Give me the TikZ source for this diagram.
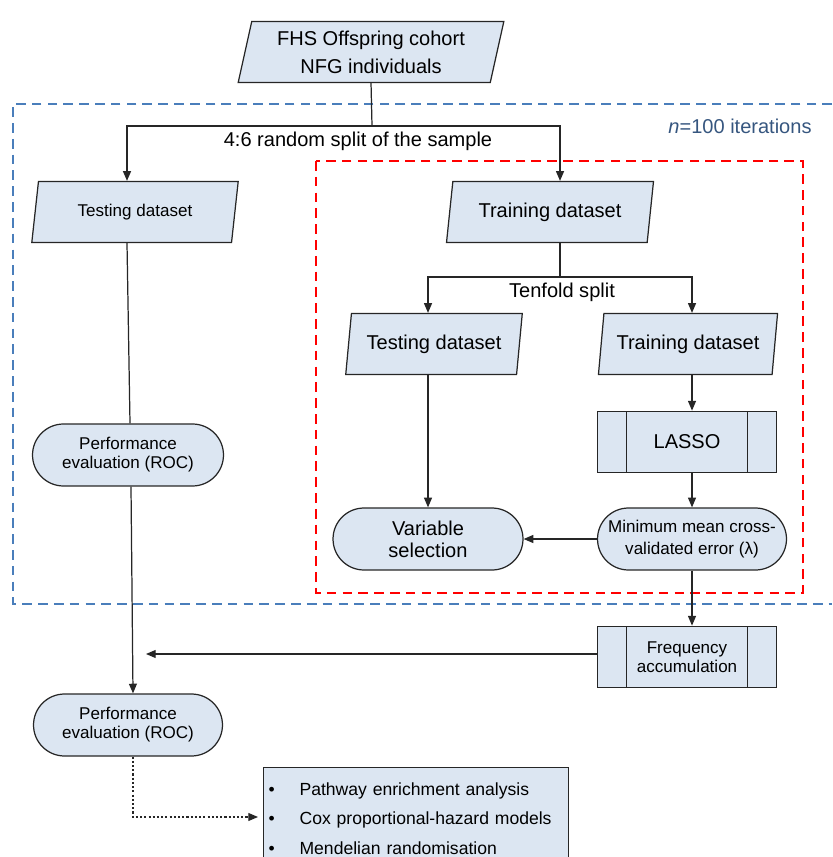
\documentclass[tikz,border=0pt]{standalone}
\usepackage{fontspec}
\setmainfont{Liberation Sans}
\usetikzlibrary{arrows.meta, positioning, calc, shapes.geometric, shapes.misc}
\definecolor{BoxFill}{HTML}{DCE6F2}
\definecolor{IterLine}{HTML}{4A7EBB}
\definecolor{IterText}{HTML}{36567F}
\colorlet{FoldLine}{red}
\colorlet{EdgeLine}{black!85}
\newcommand{\mainsize}{\fontsize{11.4}{14}\selectfont}
\newcommand{\minorsize}{\fontsize{9.7}{11}\selectfont}

\begin{document}
\begin{tikzpicture}[
    x=0.02cm, y=-0.02cm,
    data/.style={
        trapezium, trapezium left angle=76, trapezium right angle=104,
        trapezium stretches=true, draw=EdgeLine, line width=0.7pt,
        fill=BoxFill, minimum height=1.22cm, inner sep=0pt,
        align=center, font=\mainsize
    },
    term/.style={
        rounded rectangle, draw=EdgeLine, line width=0.7pt, fill=BoxFill,
        minimum height=1.24cm, minimum width=3.8cm, inner sep=0pt,
        align=center, font=\minorsize
    },
    proc/.style={
        rectangle, draw=EdgeLine, line width=0.7pt, fill=BoxFill,
        minimum width=3.57cm, minimum height=1.23cm, inner sep=0pt,
        align=center, font=\mainsize,
        path picture={
            \draw[EdgeLine, line width=0.7pt]
                ([xshift=0.58cm]path picture bounding box.north west) --
                ([xshift=0.58cm]path picture bounding box.south west);
            \draw[EdgeLine, line width=0.7pt]
                ([xshift=-0.58cm]path picture bounding box.north east) --
                ([xshift=-0.58cm]path picture bounding box.south east);
        }
    },
    note/.style={font=\mainsize, inner sep=1pt},
    arr/.style={-{Triangle[length=5.5pt, width=4.5pt]}, line width=0.7pt, EdgeLine},
    iterbox/.style={draw=IterLine, line width=1.1pt, dash pattern=on 5.5pt off 3.5pt},
    foldbox/.style={draw=FoldLine, line width=1.1pt, dash pattern=on 5.5pt off 3.5pt}
]
\useasboundingbox (0,0) rectangle (832,857);
\clip (0,0) rectangle (832,857);

% ===================================================================
% FRAMES
% ===================================================================
\draw[iterbox] (832,104) -- (13,104) -- (13,604) -- (832,604);
\node[font=\mainsize, text=IterText] (iter) at (740,126) {\textit{n}=100 iterations};
\draw[foldbox] (316,161) rectangle (803,593);

% ===================================================================
% NODES
% ===================================================================
\node[data, minimum width=5.32cm, font=\fontsize{11.4}{16}\selectfont]
    (cohort) at (371,52) {FHS Offspring cohort\\NFG individuals};

\node[data, minimum width=4.14cm, font=\minorsize] (testL) at (135,212) {Testing dataset};
\node[data, minimum width=4.16cm] (trainR) at (550,212) {Training dataset};

\node[data, minimum width=3.56cm] (testI) at (434,344) {Testing dataset};
\node[data, minimum width=3.60cm] (trainI) at (688,344) {Training dataset};

\node[proc] (lasso) at (687,442) {LASSO};
\node[term, minimum width=3.78cm, font=\fontsize{9.7}{12.5}\selectfont]
    (minerr) at (692,539) {Minimum mean cross-\\validated error (λ)};
\node[term, font=\fontsize{11.4}{12.5}\selectfont]
    (varsel) at (428,539) {Variable\\selection};
\node[proc, font=\fontsize{9.7}{10.8}\selectfont] (freq) at (687,657) {Frequency\\accumulation};

\node[term, minimum width=3.82cm, font=\fontsize{9.7}{10.8}\selectfont]
    (perf1) at (128,455) {Performance\\evaluation (ROC)};
\node[term, minimum width=3.78cm, font=\fontsize{9.7}{10.8}\selectfont]
    (perf2) at (128,725) {Performance\\evaluation (ROC)};

\node[draw=EdgeLine, line width=0.7pt, fill=BoxFill, anchor=north west,
      inner xsep=0.1cm, inner ysep=0.3cm, text width=5.9cm, align=left,
      font=\fontsize{10}{16.8}\selectfont] (further) at (263,767) {%
    \makebox[0.62cm][l]{\textbullet}Pathway enrichment analysis\\
    \makebox[0.62cm][l]{\textbullet}Cox proportional-hazard models\\
    \makebox[0.62cm][l]{\textbullet}Mendelian randomisation};

% ===================================================================
% CONNECTORS
% ===================================================================
\coordinate (split) at (372,126);
\coordinate (splitL) at (127,126);
\coordinate (splitR) at (560,126);
\draw[EdgeLine, line width=0.7pt] (cohort.south) -- (split);
\draw[arr] (split) -- (splitL) -- (splitL |- testL.north);
\draw[arr] (split) -- (splitR) -- (splitR |- trainR.north);
\node[note] (splitlab) at (358,141) {4:6 random split of the sample};

\coordinate (fold) at (560,277);
\coordinate (foldL) at (428,277);
\coordinate (foldR) at (692,277);
\draw[EdgeLine, line width=0.7pt] (splitR |- trainR.south) -- (fold);
\draw[arr] (fold) -- (foldL) -- (foldL |- testI.north);
\draw[arr] (fold) -- (foldR) -- (foldR |- trainI.north);
\node[note] (foldlab) at (562,292) {Tenfold split};

\draw[arr] (foldR |- trainI.south) -- (foldR |- lasso.north);
\draw[arr] (foldR |- lasso.south) -- (foldR |- minerr.north);
\draw[arr] (foldL |- testI.south) -- (varsel.north);
\draw[arr] (minerr.west) -- (varsel.east);
\draw[arr] (foldR |- minerr.south) -- (foldR |- freq.north);

\coordinate (freqend) at (146,654);
\draw[arr] (freq.west |- freqend) -- (freqend);

\draw[EdgeLine, line width=0.7pt] (splitL |- testL.south) -- ($(perf1.north)+(2,0)$);
\draw[arr] ($(perf1.south)+(3,0)$) -- ($(perf2.north)+(5,0)$);

\coordinate (dotend) at (258,817);
\draw[arr, dash pattern=on 1.2pt off 1.2pt] ($(perf2.south)+(5,0)$) |- (dotend);

\end{tikzpicture}
\end{document}
